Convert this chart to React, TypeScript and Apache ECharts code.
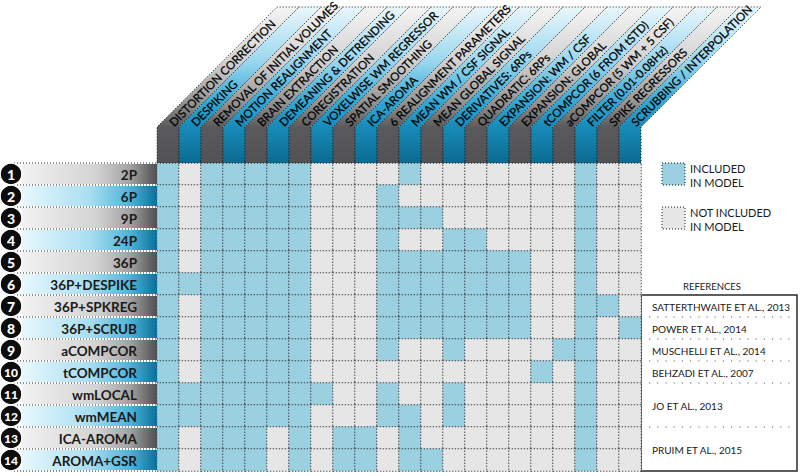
import React, { useEffect, useRef } from "react";
import * as echarts from "echarts";

const steps = [
  "DISTORTION CORRECTION",
  "DESPIKING",
  "REMOVAL OF INITIAL VOLUMES",
  "MOTION REALIGNMENT",
  "BRAIN EXTRACTION",
  "DEMEANING & DETRENDING",
  "COREGISTRATION",
  "VOXELWISE WM REGRESSOR",
  "SPATIAL SMOOTHING",
  "ICA-AROMA",
  "6 REALIGNMENT PARAMETERS",
  "MEAN WM / CSF SIGNAL",
  "MEAN GLOBAL SIGNAL",
  "DERIVATIVES: 6RPs",
  "QUADRATIC: 6RPs",
  "EXPANSION: WM / CSF",
  "EXPANSION: GLOBAL",
  "tCOMPCOR (6 FROM tSTD)",
  "aCOMPCOR (5 WM + 5 CSF)",
  "FILTER (0.01-0.08Hz)",
  "SPIKE REGRESSORS",
  "SCRUBBING / INTERPOLATION",
];

const methods = [
  "2P",
  "6P",
  "9P",
  "24P",
  "36P",
  "36P+DESPIKE",
  "36P+SPKREG",
  "36P+SCRUB",
  "aCOMPCOR",
  "tCOMPCOR",
  "wmLOCAL",
  "wmMEAN",
  "ICA-AROMA",
  "AROMA+GSR",
];

// 1 = included in model, 0 = not included (rows = methods, cols = steps)
const included: number[][] = [
  [1, 0, 1, 1, 1, 1, 1, 0, 0, 0, 0, 1, 0, 0, 0, 0, 0, 0, 0, 1, 0, 0],
  [1, 0, 1, 1, 1, 1, 1, 0, 0, 0, 1, 0, 0, 0, 0, 0, 0, 0, 0, 1, 0, 0],
  [1, 0, 1, 1, 1, 1, 1, 0, 0, 0, 1, 1, 1, 0, 0, 0, 0, 0, 0, 1, 0, 0],
  [1, 0, 1, 1, 1, 1, 1, 0, 0, 0, 1, 0, 0, 1, 1, 0, 0, 0, 0, 1, 0, 0],
  [1, 0, 1, 1, 1, 1, 1, 0, 0, 0, 1, 1, 1, 1, 1, 1, 1, 0, 0, 1, 0, 0],
  [1, 1, 1, 1, 1, 1, 1, 0, 0, 0, 1, 1, 1, 1, 1, 1, 1, 0, 0, 1, 0, 0],
  [1, 0, 1, 1, 1, 1, 1, 0, 0, 0, 1, 1, 1, 1, 1, 1, 1, 0, 0, 1, 1, 0],
  [1, 0, 1, 1, 1, 1, 1, 0, 0, 0, 1, 1, 1, 1, 1, 1, 1, 0, 0, 1, 0, 1],
  [1, 0, 1, 1, 1, 1, 1, 0, 0, 0, 1, 0, 0, 1, 0, 0, 0, 0, 1, 1, 0, 0],
  [1, 0, 1, 1, 1, 1, 1, 0, 0, 0, 0, 0, 0, 0, 0, 0, 0, 1, 0, 1, 0, 0],
  [1, 1, 1, 1, 1, 1, 1, 1, 0, 0, 1, 0, 0, 1, 0, 0, 0, 0, 0, 1, 0, 0],
  [1, 1, 1, 1, 1, 1, 1, 0, 0, 0, 1, 1, 0, 1, 0, 0, 0, 0, 0, 1, 0, 0],
  [1, 0, 1, 1, 1, 0, 1, 0, 1, 1, 0, 1, 0, 0, 0, 0, 0, 0, 0, 1, 0, 0],
  [1, 0, 1, 1, 1, 0, 1, 0, 1, 1, 0, 1, 1, 0, 0, 0, 0, 0, 0, 1, 0, 0],
];

const refNames = [
  "SATTERTHWAITE ET AL., 2013",
  "POWER ET AL., 2014",
  "MUSCHELLI ET AL., 2014",
  "BEHZADI ET AL., 2007",
  "JO ET AL., 2013",
  "PRUIM ET AL., 2015",
];
const refFirstRow = [6, 7, 8, 9, 10, 12];
const refLastRow = [6, 7, 8, 9, 11, 13];

const legendLabels = ["INCLUDED\nIN MODEL", "NOT INCLUDED\nIN MODEL"];

const BLUE_CELL = "#9bd0e1";
const GRAY_CELL = "#e6e6e6";
const DOT = "#1c1c1c";
const FONT = "Lato, 'Open Sans', sans-serif";

const grayBar = [
  { offset: 0, color: "#f2f2f2" },
  { offset: 0.55, color: "#d3d3d3" },
  { offset: 0.8, color: "#a2a2a2" },
  { offset: 1, color: "#4f4f51" },
];
const blueBar = [
  { offset: 0, color: "#e8f8fd" },
  { offset: 0.5, color: "#a9def1" },
  { offset: 0.8, color: "#4cb4da" },
  { offset: 1, color: "#0a7099" },
];
const grayStripe = [
  { offset: 0, color: "#f4f4f4" },
  { offset: 0.35, color: "#d2d2d2" },
  { offset: 0.62, color: "#929292" },
  { offset: 0.77, color: "#5a5a5c" },
  { offset: 1, color: "#525254" },
];
const blueStripe = [
  { offset: 0, color: "#eaf7fc" },
  { offset: 0.35, color: "#9ad7ef" },
  { offset: 0.62, color: "#30a6d3" },
  { offset: 0.77, color: "#178ab8" },
  { offset: 1, color: "#0b6b90" },
];

export default function App() {
  const ref = useRef<HTMLDivElement>(null);

  useEffect(() => {
    if (!ref.current) return;
    const chart = echarts.init(ref.current, undefined, { renderer: "svg" });

    const cellData: number[][] = [];
    included.forEach((row, r) => row.forEach((v, c) => cellData.push([c, r, v])));

    const dotted = { stroke: DOT, lineWidth: 1, lineDash: [1, 2] };

    const option: any = {
      animation: false,
      grid: { left: 157, top: 163, width: 484, height: 308 },
      xAxis: { type: "category", data: steps, show: false },
      yAxis: { type: "category", data: methods, inverse: true, show: false },
      visualMap: {
        type: "piecewise",
        show: false,
        dimension: 2,
        seriesIndex: 0,
        pieces: [
          { value: 0, color: GRAY_CELL },
          { value: 1, color: BLUE_CELL },
        ],
      },
      series: [
        {
          type: "heatmap",
          data: cellData,
          silent: true,
          emphasis: { disabled: true },
          itemStyle: { borderColor: DOT, borderWidth: 1, borderType: [1, 2] },
        },
        {
          // row labels
          type: "custom",
          silent: true,
          clip: false,
          encode: { x: 0, y: 1 },
          data: methods.map((_, i) => [0, i]),
          renderItem: (_p: any, api: any) => {
            const i = api.value(1) as number;
            const c = api.coord([0, i]);
            const s = api.size([1, 1]);
            const left = c[0] - s[0] / 2;
            const top = c[1] - s[1] / 2;
            const gray = i % 2 === 0;
            const children: any[] = [
              {
                type: "rect",
                shape: { x: 22, y: top + 1, width: left - 22, height: s[1] - 2 },
                style: {
                  fill: new echarts.graphic.LinearGradient(0, 0, 1, 0, gray ? grayBar : blueBar),
                },
              },
              {
                type: "line",
                shape: { x1: 14, y1: top + s[1], x2: left, y2: top + s[1] },
                style: dotted,
              },
            ];
            if (i === 0) {
              children.push({
                type: "line",
                shape: { x1: 14, y1: top, x2: left, y2: top },
                style: dotted,
              });
            }
            children.push(
              {
                type: "text",
                x: left - 20,
                y: c[1] + 1,
                style: {
                  text: methods[i],
                  align: "right",
                  verticalAlign: "middle",
                  font: `bold 13.5px ${FONT}`,
                  fill: "#1a1a1a",
                },
              },
              {
                type: "circle",
                shape: { cx: 11, cy: c[1], r: 10.8 },
                style: { fill: "#0d0d0d", stroke: "#ffffff", lineWidth: 1.2 },
              },
              {
                type: "text",
                x: 11,
                y: c[1] + 0.5,
                style: {
                  text: String(i + 1),
                  align: "center",
                  verticalAlign: "middle",
                  font: `900 ${i + 1 >= 10 ? 12 : 14}px ${FONT}`,
                  fill: "#ffffff",
                },
              }
            );
            return { type: "group", children };
          },
        },
        {
          // column headers
          type: "custom",
          silent: true,
          clip: false,
          encode: { x: 0, y: 1 },
          data: steps.map((_, i) => [i, 0]),
          renderItem: (_p: any, api: any) => {
            const i = api.value(0) as number;
            const c = api.coord([i, 0]);
            const s = api.size([1, 1]);
            const x0 = c[0] - s[0] / 2;
            const w = s[0];
            const gridTop = c[1] - s[1] / 2;
            const blockTop = gridTop - 36;
            const H = 120;
            const gray = i % 2 === 0;
            const d = 3;
            return {
              type: "group",
              children: [
                {
                  type: "polygon",
                  shape: {
                    points: [
                      [x0, gridTop],
                      [x0 + w, gridTop],
                      [x0 + w, blockTop],
                      [x0 + w + H, blockTop - H],
                      [x0 + H, blockTop - H],
                      [x0, blockTop],
                    ],
                  },
                  style: {
                    fill: new echarts.graphic.LinearGradient(0, 0, 0, 1, gray ? grayStripe : blueStripe),
                    stroke: DOT,
                    lineWidth: 1,
                    lineDash: [1, 2],
                  },
                },
                {
                  type: "text",
                  x: x0 + w / 2 + d,
                  y: blockTop - d,
                  rotation: Math.PI / 4,
                  style: {
                    text: steps[i],
                    align: "left",
                    verticalAlign: "middle",
                    font: `11.5px ${FONT}`,
                    fill: "#000000",
                    stroke: "#000000",
                    lineWidth: 0.25,
                  },
                },
              ],
            };
          },
        },
        {
          // references
          type: "custom",
          silent: true,
          clip: false,
          encode: { x: 0, y: 1 },
          data: refNames.map((_, k) => [steps.length - 1, refFirstRow[k], refLastRow[k], k]),
          renderItem: (_p: any, api: any) => {
            const k = api.value(3) as number;
            const p1 = api.coord([steps.length - 1, refFirstRow[k]]);
            const p2 = api.coord([steps.length - 1, refLastRow[k]]);
            const s = api.size([1, 1]);
            const x = p1[0] + s[0] / 2 + 11;
            const cy = (p1[1] + p2[1]) / 2;
            const children: any[] = [
              {
                type: "text",
                x,
                y: cy + 0.5,
                style: {
                  text: refNames[k],
                  align: "left",
                  verticalAlign: "middle",
                  font: `10px ${FONT}`,
                  fill: "#1a1a1a",
                },
              },
            ];
            if (k < refNames.length - 1) {
              const yb = p2[1] + s[1] / 2;
              children.push({
                type: "line",
                shape: { x1: x - 3, y1: yb, x2: x + 142, y2: yb },
                style: { stroke: "#666", lineWidth: 1.2, lineDash: [1.2, 7] },
              });
            }
            return { type: "group", children };
          },
        },
      ],
      graphic: [
        {
          type: "rect",
          silent: true,
          shape: { x: 662, y: 163, width: 23, height: 22 },
          style: { fill: BLUE_CELL, ...dotted },
        },
        {
          type: "text",
          silent: true,
          x: 690,
          y: 175,
          style: {
            text: legendLabels[0],
            verticalAlign: "middle",
            lineHeight: 14,
            font: `11px ${FONT}`,
            fill: "#1a1a1a",
          },
        },
        {
          type: "rect",
          silent: true,
          shape: { x: 662, y: 207, width: 23, height: 22 },
          style: { fill: GRAY_CELL, ...dotted },
        },
        {
          type: "text",
          silent: true,
          x: 690,
          y: 219,
          style: {
            text: legendLabels[1],
            verticalAlign: "middle",
            lineHeight: 14,
            font: `11px ${FONT}`,
            fill: "#1a1a1a",
          },
        },
        {
          type: "text",
          silent: true,
          x: 712,
          y: 286,
          style: {
            text: "REFERENCES",
            align: "center",
            verticalAlign: "middle",
            font: `9.5px ${FONT}`,
            fill: "#1a1a1a",
          },
        },
        {
          type: "rect",
          silent: true,
          shape: { x: 641, y: 295, width: 156, height: 176 },
          style: { fill: "none", stroke: "#2a2a2a", lineWidth: 1.5 },
        },
      ],
    };

    chart.setOption(option);
    return () => chart.dispose();
  }, []);

  return (
    <div
      ref={ref}
      style={{ position: "fixed", left: 0, top: 0, width: 800, height: 476, background: "#ffffff" }}
    />
  );
}
